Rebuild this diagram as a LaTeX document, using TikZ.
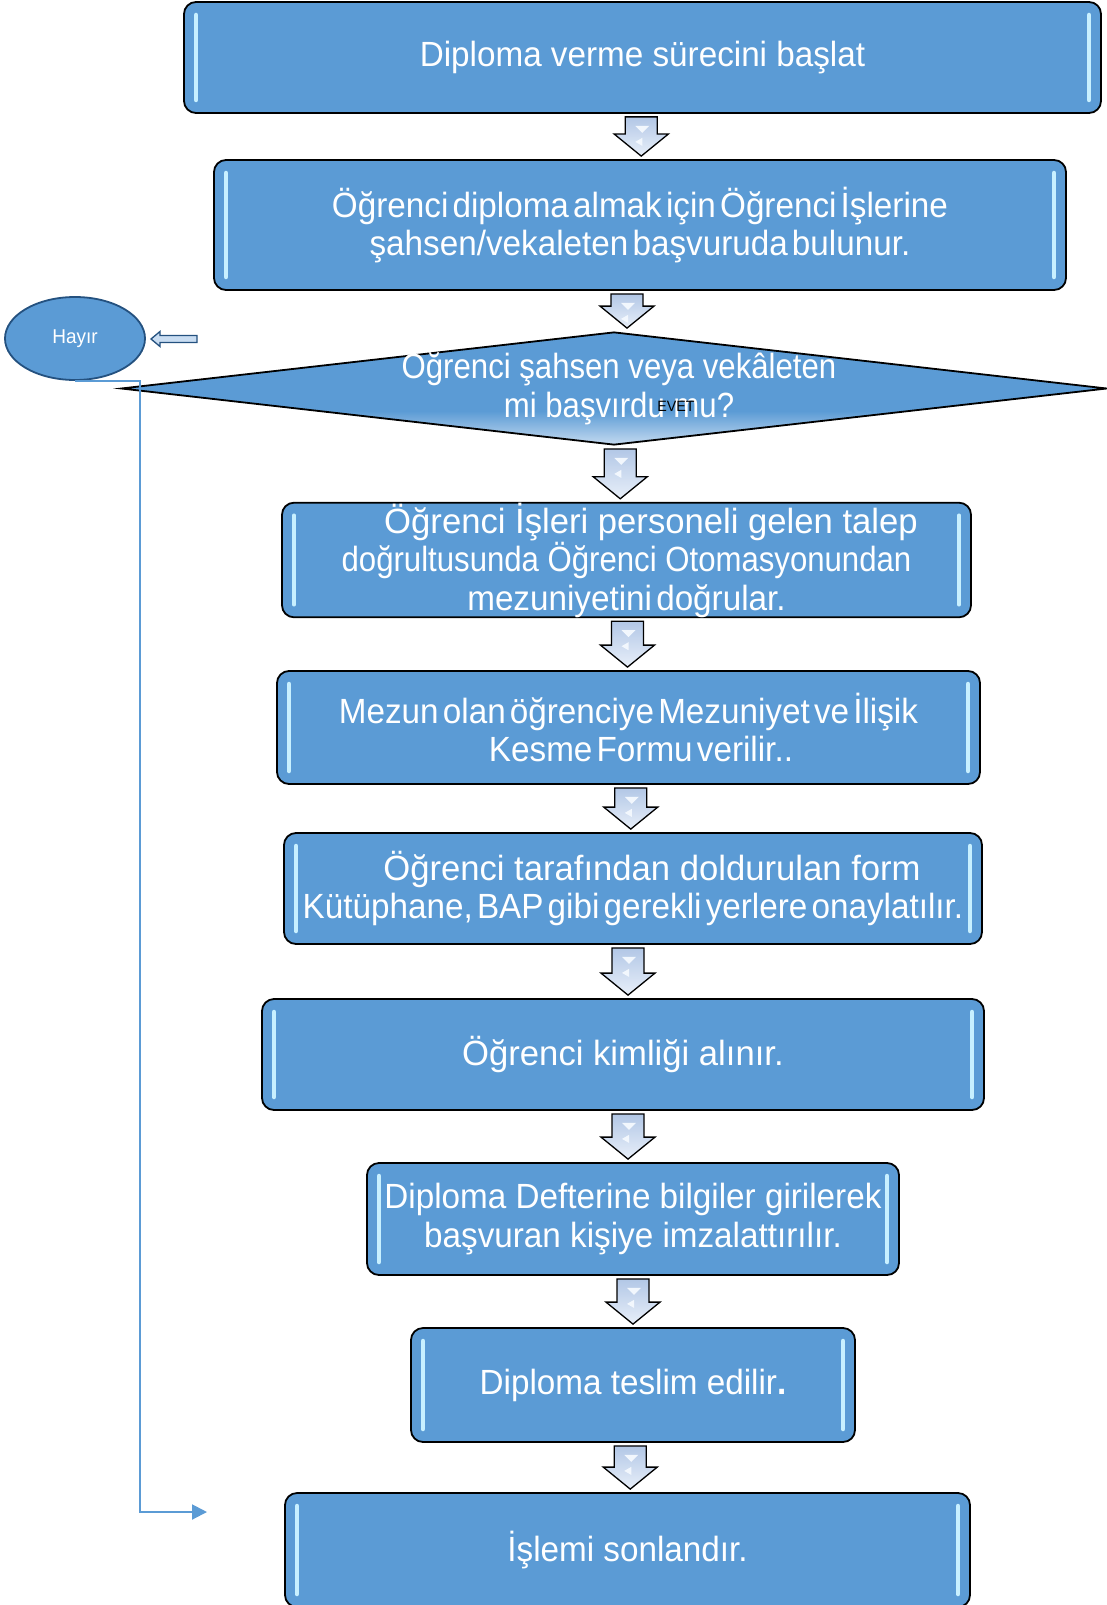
\documentclass[tikz,border=0pt]{standalone}
\usepackage{fontspec}
\setmainfont[FakeStretch=0.95]{Liberation Sans}
\usetikzlibrary{shapes.geometric, arrows.meta, calc}
\usepackage{xcolor}

\definecolor{boxblue}{HTML}{5B9BD5}
\definecolor{askpale}{HTML}{C4DAF0}
\definecolor{shine}{HTML}{C8F0FF}
\definecolor{navy}{HTML}{24517F}
\definecolor{arrtop}{HTML}{B2C7E6}
\definecolor{arrbottom}{HTML}{E8EFF9}
\definecolor{arrshine}{HTML}{F2F7FD}
\definecolor{hollowfill}{HTML}{C9DDF2}

\pgfdeclareverticalshading{askshade}{100bp}{color(0bp)=(askpale); color(25bp)=(askpale);
  color(40bp)=(boxblue); color(100bp)=(boxblue)}

\newcommand\narrowtext{\addfontfeature{FakeStretch=0.89}}
\newcommand\widetext{\addfontfeature{FakeStretch=0.99}}

% block arrow between two nodes
\newcommand\flowarrow[2]{%
  \draw[blockarr] let \p1=(#1.south), \p2=(#2.north) in
    ({(\x1+\x2)/2-16pt},{\y1-3pt}) -- ({(\x1+\x2)/2+16pt},{\y1-3pt})
    -- ({(\x1+\x2)/2+16pt},{\y2+25pt}) -- ({(\x1+\x2)/2+27pt},{\y2+25pt})
    -- ({(\x1+\x2)/2},{\y2+3pt}) -- ({(\x1+\x2)/2-27pt},{\y2+25pt})
    -- ({(\x1+\x2)/2-16pt},{\y2+25pt}) -- cycle;
  \fill[arrshine] let \p1=(#1.south), \p2=(#2.north) in
    ({(\x1+\x2)/2-6pt},{\y1-12pt}) -- ({(\x1+\x2)/2+8pt},{\y1-12pt})
    -- ({(\x1+\x2)/2+1pt},{\y1-19pt}) -- cycle
    ({(\x1+\x2)/2+1pt},{\y1-24pt}) -- ({(\x1+\x2)/2+1pt},{\y1-32pt})
    -- ({(\x1+\x2)/2-6pt},{\y1-28pt}) -- cycle;}

\begin{document}
\begin{tikzpicture}[x=1pt, y=-1pt,
    procbox/.style={draw=black, line width=1.8pt, fill=boxblue, rounded corners=12pt,
                    text=white, align=center, inner sep=0pt,
                    font={\fontsize{35}{38.5}\selectfont},
                    path picture={
                      \draw[shine, line width=4.5pt, line cap=round]
                        ([xshift=12pt,yshift=-13pt]path picture bounding box.north west)
                        -- ([xshift=12pt,yshift=13pt]path picture bounding box.south west)
                        ([xshift=-12pt,yshift=-13pt]path picture bounding box.north east)
                        -- ([xshift=-12pt,yshift=13pt]path picture bounding box.south east);}},
    tight/.style={font={\fontsize{35}{38.5}\selectfont\spaceskip=0.12em\relax}},
    askshape/.style={diamond, draw=black, line width=1.8pt, shading=askshade,
                     minimum width=986pt, minimum height=113pt, inner sep=0pt},
    asktext/.style={text=white, align=center, font={\fontsize{35}{38.5}\selectfont\narrowtext}},
    yeslabel/.style={text=black, inner sep=0pt, font={\fontsize{15}{15}\selectfont}},
    nobubble/.style={ellipse, draw=navy, line width=1.8pt, fill=boxblue, text=white,
                     minimum width=140pt, minimum height=83pt, inner sep=0pt,
                     font={\fontsize{20}{20}\selectfont}},
    blockarr/.style={draw=black, line width=1.3pt, line join=miter,
                     top color=arrtop, bottom color=arrbottom},
    hollowarr/.style={draw=navy, line width=1.3pt, fill=hollowfill, line join=miter},
    noflow/.style={draw=boxblue, line width=2pt, -{Triangle[length=15pt,width=15pt]}}
  ]
  \useasboundingbox (0,0) rectangle (1106,1605);

  \node[procbox, minimum width=917pt, minimum height=111pt] (start) at (642.5,57.5)
    {Diploma verme sürecini başlat};
  \node[procbox, tight, minimum width=852pt, minimum height=130pt] (apply) at (640,225)
    {Öğrenci diploma almak için Öğrenci İşlerine\\şahsen/vekaleten başvuruda bulunur.};
  \node[askshape] (ask) at (614,388.5) {};
  \node[asktext] (asklabel) at (619,387) {Öğrenci şahsen veya vekâleten\\mi başvırdu mu?};
  \node[yeslabel] (evet) at (676,406) {EVET};
  \node[procbox, minimum width=689pt, minimum height=114pt] (check) at (626.5,560)
    {\hspace*{49pt}{\widetext Öğrenci İşleri personeli gelen talep}\\
     {\narrowtext doğrultusunda Öğrenci Otomasyonundan}\\
     {\spaceskip=0.12em\relax mezuniyetini doğrular.}};
  \node[procbox, tight, minimum width=703pt, minimum height=113pt] (form) at (628.5,727.5)
    {Mezun olan öğrenciye Mezuniyet ve İlişik\\\hspace*{25pt}Kesme Formu verilir..};
  \node[procbox, minimum width=698pt, minimum height=111pt] (sign) at (633,888.5)
    {\hspace*{38pt}{\widetext Öğrenci tarafından doldurulan form}\\
     {\spaceskip=0.12em\relax Kütüphane, BAP gibi gerekli yerlere onaylatılır.}};
  \node[procbox, minimum width=722pt, minimum height=111pt] (card) at (623,1054.5)
    {\widetext Öğrenci kimliği alınır.};
  \node[procbox, minimum width=532pt, minimum height=112pt] (book) at (633,1219)
    {Diploma Defterine bilgiler girilerek\\başvuran kişiye imzalattırılır.};
  \node[procbox, minimum width=444pt, minimum height=114pt] (hand) at (633,1385)
    {Diploma teslim edilir\textbf{.}};
  \node[procbox, minimum width=685pt, minimum height=114pt] (stop) at (627.5,1550)
    {İşlemi sonlandır.};

  \node[nobubble] (hayir) at (75,338.5) {Hayır};

  \flowarrow{start}{apply}
  \flowarrow{apply}{ask}
  \flowarrow{ask}{check}
  \flowarrow{check}{form}
  \flowarrow{form}{sign}
  \flowarrow{sign}{card}
  \flowarrow{card}{book}
  \flowarrow{book}{hand}
  \flowarrow{hand}{stop}

  % the "no" branch
  \coordinate (nofrom) at (197,339);
  \draw[hollowarr] (nofrom) ++(0,-3.5) -- ++(-37,0) -- ++(0,-4) -- ++(-9,7.5)
    -- ++(9,7.5) -- ++(0,-4) -- ++(37,0) -- cycle;
  \coordinate (noend) at (207,1512);
  \draw[noflow] (hayir.south) -- ++(65pt,0pt) |- (noend);
\end{tikzpicture}
\end{document}
